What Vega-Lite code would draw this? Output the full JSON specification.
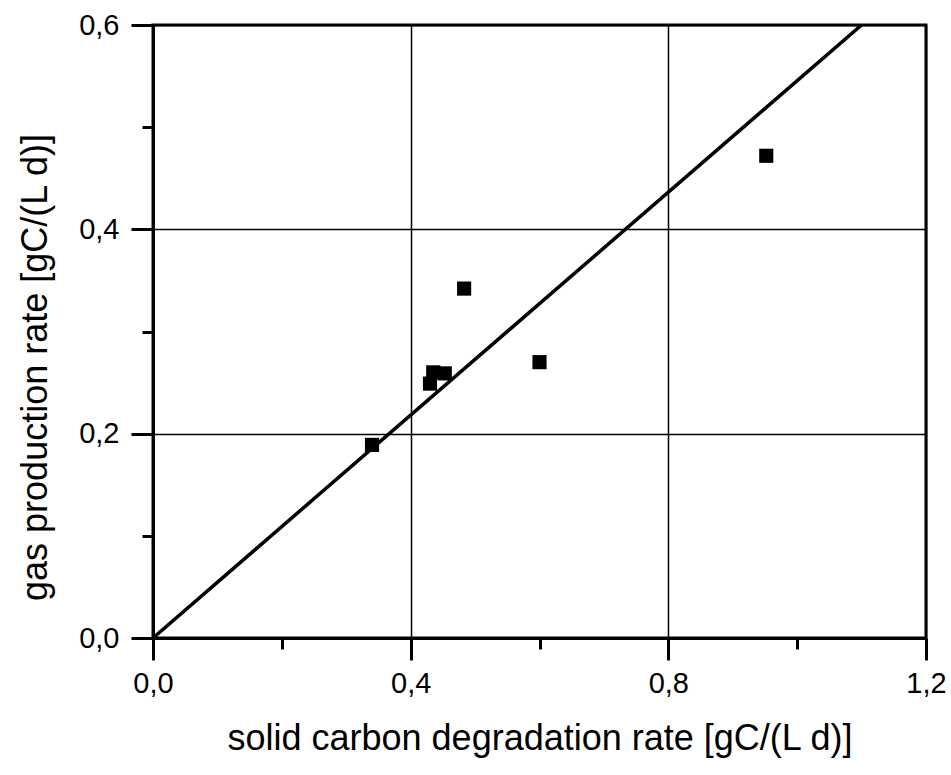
{
  "$schema": "https://vega.github.io/schema/vega-lite/v6.json",
  "width": 773,
  "height": 613,
  "autosize": "none",
  "padding": {"left": 153, "top": 25, "right": 25, "bottom": 137},
  "background": "white",
  "config": {
    "view": {"stroke": "black", "strokeWidth": 3},
    "font": "Liberation Sans",
    "axis": {
      "labelFont": "Liberation Sans",
      "titleFont": "Liberation Sans",
      "labelFontSize": 29,
      "titleFontSize": 36,
      "titleFontWeight": "normal",
      "labelColor": "black",
      "titleColor": "black",
      "domainColor": "black",
      "domainWidth": 3,
      "tickColor": "black",
      "tickWidth": 3,
      "gridColor": "black",
      "gridWidth": 1.5
    }
  },
  "datasets": {
    "points": [
      {"solid": 0.340, "gas": 0.189},
      {"solid": 0.430, "gas": 0.249},
      {"solid": 0.435, "gas": 0.260},
      {"solid": 0.453, "gas": 0.259},
      {"solid": 0.483, "gas": 0.342},
      {"solid": 0.600, "gas": 0.270},
      {"solid": 0.952, "gas": 0.472}
    ],
    "fit": [
      {"solid": 0.0, "gas": 0.0},
      {"solid": 1.1, "gas": 0.6}
    ]
  },
  "layer": [
    {
      "data": {"name": "fit"},
      "mark": {"type": "line", "color": "black", "strokeWidth": 3.5, "clip": true},
      "encoding": {
        "x": {
          "field": "solid", "type": "quantitative",
          "scale": {"domain": [0, 1.2], "nice": false},
          "title": "solid carbon degradation rate [gC/(L d)]",
          "axis": {
            "values": [0, 0.2, 0.4, 0.6, 0.8, 1.0, 1.2],
            "labelExpr": "round(datum.value*10) % 4 == 0 ? replace(format(datum.value, '.1f'), '.', ',') : ''",
            "tickSize": {"condition": {"test": "round(datum.value*10) % 4 == 0", "value": 22}, "value": 11},
            "gridOpacity": {"condition": {"test": "round(datum.value*10) % 4 == 0", "value": 1}, "value": 0},
            "grid": true,
            "labelPadding": 9,
            "titlePadding": 23,
            "labelFlush": false
          }
        },
        "y": {
          "field": "gas", "type": "quantitative",
          "scale": {"domain": [0, 0.6], "nice": false},
          "title": "gas production rate [gC/(L d)]",
          "axis": {
            "values": [0, 0.1, 0.2, 0.3, 0.4, 0.5, 0.6],
            "labelExpr": "round(datum.value*10) % 2 == 0 ? replace(format(datum.value, '.1f'), '.', ',') : ''",
            "tickSize": {"condition": {"test": "round(datum.value*10) % 2 == 0", "value": 22}, "value": 11},
            "gridOpacity": {"condition": {"test": "round(datum.value*10) % 2 == 0", "value": 1}, "value": 0},
            "grid": true,
            "labelPadding": 12,
            "titlePadding": 24,
            "titleY": 342,
            "labelFlush": false
          }
        }
      }
    },
    {
      "data": {"name": "points"},
      "mark": {"type": "point", "shape": "square", "filled": true, "color": "black", "opacity": 1, "size": 200},
      "encoding": {
        "x": {"field": "solid", "type": "quantitative"},
        "y": {"field": "gas", "type": "quantitative"}
      }
    }
  ]
}
